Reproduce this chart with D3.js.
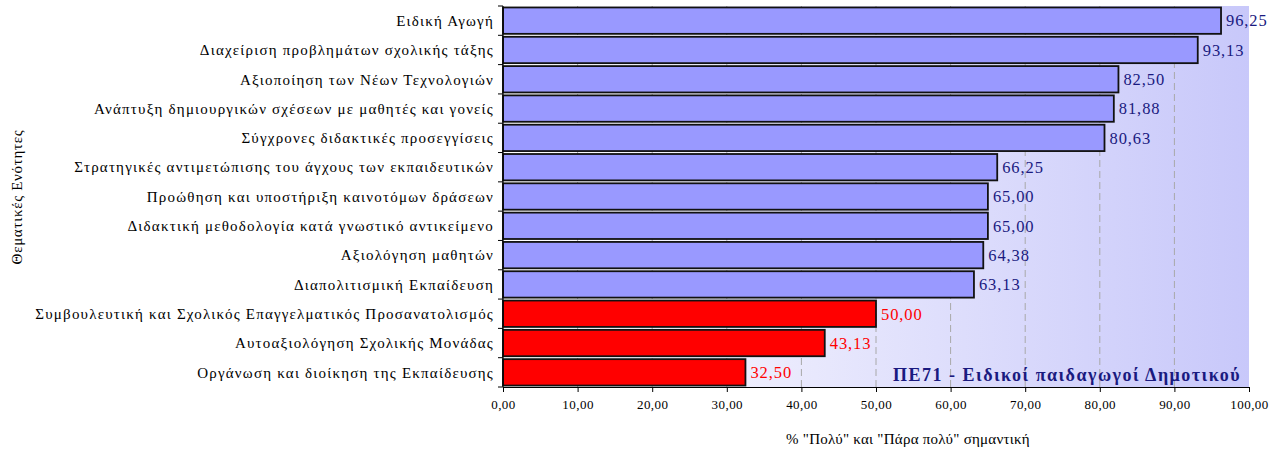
<!DOCTYPE html>
<html><head><meta charset="utf-8">
<script src="https://cdn.jsdelivr.net/npm/d3@7"></script>
<style>body{margin:0;background:#fff}svg{display:block}text{font-family:"Liberation Serif","Times New Roman",serif}</style>
</head><body><svg id="c" width="1285" height="452"></svg>
<script>
const categories = [
 "Ειδική Αγωγή",
 "Διαχείριση προβλημάτων σχολικής τάξης",
 "Αξιοποίηση των Νέων Τεχνολογιών",
 "Ανάπτυξη δημιουργικών σχέσεων με μαθητές και γονείς",
 "Σύγχρονες διδακτικές προσεγγίσεις",
 "Στρατηγικές αντιμετώπισης του άγχους των εκπαιδευτικών",
 "Προώθηση και υποστήριξη καινοτόμων δράσεων",
 "Διδακτική μεθοδολογία κατά γνωστικό αντικείμενο",
 "Αξιολόγηση μαθητών",
 "Διαπολιτισμική Εκπαίδευση",
 "Συμβουλευτική και Σχολικός Επαγγελματικός Προσανατολισμός",
 "Αυτοαξιολόγηση Σχολικής Μονάδας",
 "Οργάνωση και διοίκηση της Εκπαίδευσης"
];
const values = [96.25, 93.13, 82.50, 81.88, 80.63, 66.25, 65.00, 65.00, 64.38, 63.13, 50.00, 43.13, 32.50];
const highlight = [false,false,false,false,false,false,false,false,false,false,true,true,true];
const xTicks = [0,10,20,30,40,50,60,70,80,90,100];
const title = "ΠΕ71 - Ειδικοί παιδαγωγοί Δημοτικού";
const xTitle = '% "Πολύ" και "Πάρα πολύ" σημαντική';
const yTitle = "Θεματικές Ενότητες";

const svg = d3.select("#c");
const L = 503, R = 1249, T = 6, B = 387;
const x = d3.scaleLinear().domain([0,100]).range([L,R]);
const y = d3.scaleBand().domain(categories).range([T,B]).paddingInner(0.1).paddingOuter(0.05);
const fmt = v => v.toFixed(2).replace(".", ",");

const defs = svg.append("defs");
const g = defs.append("linearGradient").attr("id","bg").attr("x1","0").attr("x2","1").attr("y1","0").attr("y2","0");
g.append("stop").attr("offset","0").attr("stop-color","#ffffff");
g.append("stop").attr("offset","1").attr("stop-color","#c8c8fa");
svg.append("rect").attr("x",L).attr("y",T).attr("width",R-L).attr("height",B-T).attr("fill","url(#bg)");

// grid
svg.append("g").selectAll("line").data(xTicks.filter(d=>d>0&&d<100)).join("line")
  .attr("x1",d=>x(d)).attr("x2",d=>x(d)).attr("y1",T).attr("y2",B)
  .attr("stroke","#a8a8a8").attr("stroke-width",1).attr("stroke-dasharray","7,4");

// bars
svg.append("g").selectAll("rect").data(values).join("rect")
  .attr("x",x(0)).attr("y",(d,i)=>y(categories[i]))
  .attr("width",d=>x(d)-x(0)).attr("height",y.bandwidth())
  .attr("fill",(d,i)=>highlight[i]?"#ff0000":"#9999ff")
  .attr("stroke","#111").attr("stroke-width",1.8);

// value labels
svg.append("g").selectAll("text").data(values).join("text")
  .attr("x",d=>x(d)+5).attr("y",(d,i)=>y(categories[i])+y.bandwidth()/2)
  .attr("dy","0.35em").attr("font-size",16.5).attr("letter-spacing",0.9)
  .attr("fill",(d,i)=>highlight[i]?"#ff0000":"#1a1a80")
  .text(d=>fmt(d));

// category labels
svg.append("g").selectAll("text").data(categories).join("text")
  .attr("x",L-9).attr("y",d=>y(d)+y.bandwidth()/2).attr("dy","0.35em")
  .attr("text-anchor","end").attr("font-size",15).attr("letter-spacing",1.2).attr("fill","#000").text(d=>d);

// y axis line + ticks at band boundaries
const step = (B-T)/categories.length;
const yAx = svg.append("g");
yAx.append("line").attr("x1",L).attr("x2",L).attr("y1",T).attr("y2",B).attr("stroke","#000").attr("stroke-width",1.2);
yAx.selectAll("line.t").data(d3.range(categories.length+1)).join("line").attr("class","t")
  .attr("x1",L-5).attr("x2",L).attr("y1",i=>T+i*step).attr("y2",i=>T+i*step).attr("stroke","#000");

// x axis
const xAx = svg.append("g").attr("transform",`translate(0,${B})`)
  .call(d3.axisBottom(x).tickValues(xTicks).tickSize(5).tickSizeOuter(0).tickPadding(8).tickFormat(fmt));
xAx.select(".domain").attr("stroke","#000").attr("stroke-width",1.2);
xAx.selectAll("text").attr("font-size",13).attr("letter-spacing",0.45).attr("font-family","Liberation Serif").attr("fill","#000");

// titles
svg.append("text").attr("x",908).attr("y",444).attr("text-anchor","middle").attr("font-size",15).attr("letter-spacing",0.25).text(xTitle);
svg.append("text").attr("transform","translate(22,197) rotate(-90)").attr("text-anchor","middle").attr("font-size",15).attr("letter-spacing",0.7).text(yTitle);
svg.append("text").attr("x",1241).attr("y",381).attr("text-anchor","end").attr("font-size",18).attr("letter-spacing",1.5).attr("font-weight","bold").attr("fill","#1a1a80").text(title);
</script></body></html>
